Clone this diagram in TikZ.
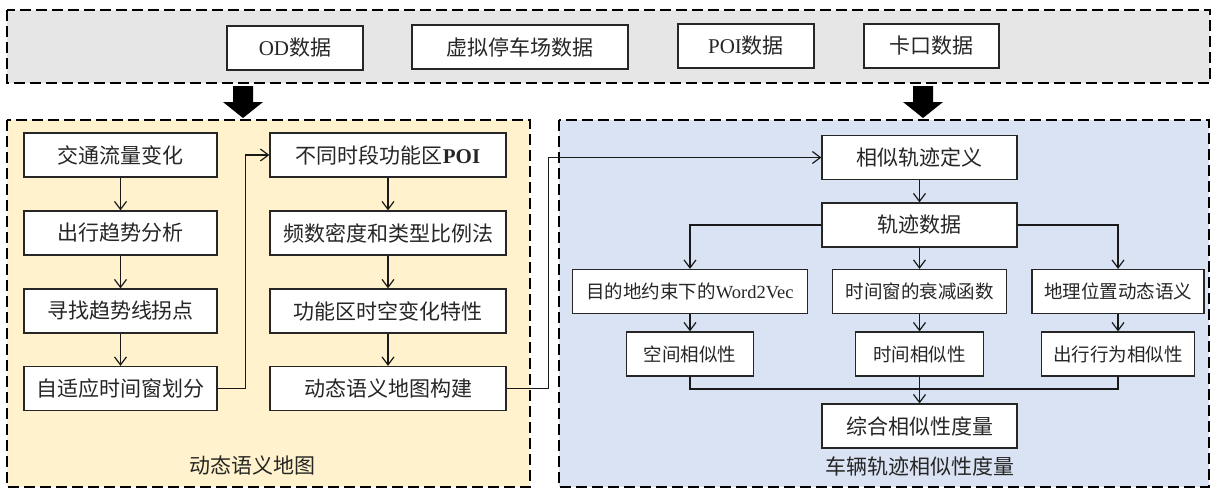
\documentclass[tikz,border=0pt]{standalone}
\usepackage{fontspec}
\setmainfont{Liberation Serif}
\newfontfamily\cjk{Noto Sans CJK SC}
\usetikzlibrary{arrows.meta}
\definecolor{grayfill}{HTML}{E7E6E6}
\definecolor{yelfill}{HTML}{FFF2CC}
\definecolor{bluefill}{HTML}{DAE3F3}
\newcommand\latn[1]{{\rmfamily #1}}
\tikzset{
  box/.style={draw=black!85, fill=white, line width=1.2pt, minimum height=44pt,
    inner sep=0pt, text=black!85, font=\cjk\fontsize{21}{25}\selectfont},
  smallbox/.style={box, font=\cjk\fontsize{18.5}{22}\selectfont},
  panel/.style={draw=black, line width=1.5pt, dash pattern=on 11pt off 5pt},
  conn/.style={draw=black!90, line width=1.2pt,
    -{Straight Barb[length=8pt,width=12pt,line width=1.2pt]}},
  plain/.style={draw=black!90, line width=1.2pt},
  lbl/.style={font=\cjk\fontsize{21}{25}\selectfont, inner sep=0pt, text=black!85},
  blockarrow/.style={fill=black}
}
\begin{document}
\begin{tikzpicture}[x=1pt,y=-1pt]
\useasboundingbox (0,0) rectangle (1216,490);
\fill[white] (0,0) rectangle (1216,490);
% panels
\draw[panel, fill=grayfill] (7,10) rectangle (1210,83);
\draw[panel, fill=yelfill] (7,120) rectangle (530,487);
\draw[panel, fill=bluefill] (559,120) rectangle (1209,487);
% top data boxes
\node[box, minimum width=136pt] (od) at (295,48) {\latn{OD}数据};
\node[box, minimum width=216pt] (park) at (520,47) {虚拟停车场数据};
\node[box, minimum width=136pt] (poi) at (746,46) {\latn{POI}数据};
\node[box, minimum width=135pt] (kakou) at (931.5,46) {卡口数据};
% block arrows
\fill[blockarrow] (233,86) -- (253,86) -- (253,102) -- (263,102) -- (243,118) -- (223,102) -- (233,102) -- cycle;
\fill[blockarrow] (913,86) -- (933,86) -- (933,102) -- (943,102) -- (923,118) -- (903,102) -- (913,102) -- cycle;
% left panel
\node[box, minimum width=193pt] (a1) at (120.5,155) {交通流量变化};
\node[box, minimum width=193pt] (a2) at (120.5,233) {出行趋势分析};
\node[box, minimum width=193pt] (a3) at (120.5,311) {寻找趋势线拐点};
\node[box, minimum width=193pt] (a4) at (120.5,388.5) {自适应时间窗划分};
\node[box, minimum width=236pt] (b1) at (388,155) {不同时段功能区\latn{\textbf{POI}}};
\node[box, minimum width=236pt] (b2) at (388,233) {频数密度和类型比例法};
\node[box, minimum width=236pt] (b3) at (388,311) {功能区时空变化特性};
\node[box, minimum width=236pt] (b4) at (388,388.5) {动态语义地图构建};
\draw[conn] (a1) -- (a2);
\draw[conn] (a2) -- (a3);
\draw[conn] (a3) -- (a4);
\draw[conn] (a4.east) -- ++(28,0) |- (b1.west);
\draw[conn] (b1) -- (b2);
\draw[conn] (b2) -- (b3);
\draw[conn] (b3) -- (b4);
\node[lbl] (lab1) at (252,465) {动态语义地图};
% right panel
\node[box, minimum width=195pt] (c1) at (919.5,157.5) {相似轨迹定义};
\node[box, minimum width=195pt] (c2) at (919.5,225) {轨迹数据};
\node[smallbox, minimum width=235pt] (d1) at (690,291.5) {目的地约束下的\latn{Word2Vec}};
\node[smallbox, minimum width=174pt] (d2) at (919.5,291.5) {时间窗的衰减函数};
\node[smallbox, minimum width=172pt] (d3) at (1118,291.5) {地理位置动态语义};
\node[smallbox, minimum width=127pt] (e1) at (690,354) {空间相似性};
\node[smallbox, minimum width=128pt] (e2) at (919.5,354) {时间相似性};
\node[smallbox, minimum width=153pt] (e3) at (1118,354) {出行行为相似性};
\node[box, minimum width=195pt] (f) at (919.5,426) {综合相似性度量};
\node[lbl] (lab2) at (920,467) {车辆轨迹相似性度量};
\draw[conn] (b4.east) -- ++(42,0) |- (c1.west);
\draw[conn] (c1) -- (c2);
\draw[conn] (c2.west) -| (d1.north);
\draw[conn] (c2) -- (d2);
\draw[conn] (c2.east) -| (d3.north);
\draw[conn] (d1) -- (e1);
\draw[conn] (d2) -- (e2);
\draw[conn] (d3) -- (e3);
\coordinate (merge) at (919.5,389);
\draw[plain] (e1.south) |- (merge);
\draw[plain] (e3.south) |- (merge);
\draw[conn] (e2) -- (f);
\end{tikzpicture}
\end{document}
